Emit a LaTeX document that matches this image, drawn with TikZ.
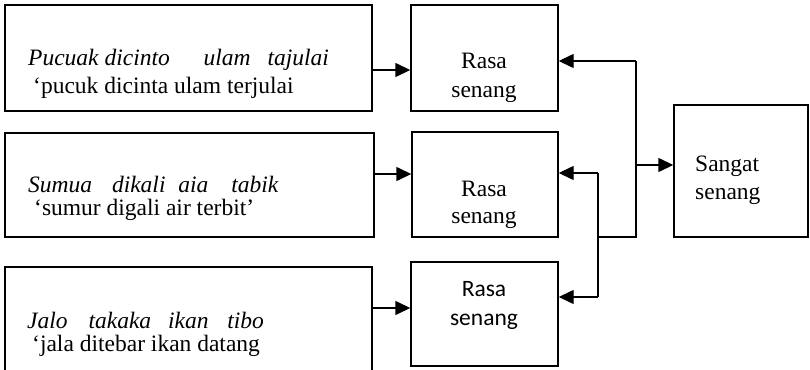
\documentclass[tikz,border=0pt]{standalone}
\usepackage{fontspec}
\setmainfont{Liberation Serif}
\newfontfamily\calib{Carlito}
\usetikzlibrary{arrows.meta}
\tikzset{
  box/.style={draw, line width=1.4pt, rectangle, inner sep=0pt},
  txt/.style={inner sep=0pt, font=\fontsize{23.5}{28}\selectfont},
  conn/.style={line width=1.4pt},
  arr/.style={line width=1.4pt, -{Triangle[length=15pt,width=14pt]}}
}
\begin{document}
\begin{tikzpicture}[x=1pt,y=-1pt]
\useasboundingbox (0,0) rectangle (810,369);
% left boxes
\node[box, minimum width=367pt, minimum height=106pt] (L1) at (188.5,58) {};
\node[box, minimum width=369pt, minimum height=104pt] (L2) at (189.5,185) {};
\node[box, minimum width=367pt, minimum height=105pt] (L3) at (188.5,319.5) {};
% middle boxes
\node[box, minimum width=147pt, minimum height=106pt] (M1) at (484.5,58) {};
\node[box, minimum width=146pt, minimum height=105pt] (M2) at (485,184.5) {};
\node[box, minimum width=147pt, minimum height=104pt] (M3) at (484.5,314) {};
% right box
\node[box, minimum width=134pt, minimum height=132pt] (S) at (741,171) {};
% texts left
\node[txt, anchor=base west] (t1a) at (28,66) {\textit{Pucuak dicinto\hspace{28pt} ulam\hspace{11pt} tajulai}};
\node[txt, anchor=base west] (t1b) at (33,93) {‘pucuk dicinta ulam terjulai};
\node[txt, anchor=base west] (t2a) at (28,192) {\textit{Sumua\hspace{14pt} dikali\hspace{7pt} aia\hspace{17pt} tabik}};
\node[txt, anchor=base west] (t2b) at (34,215) {‘sumur digali air terbit’};
\node[txt, anchor=base west] (t3a) at (27,328) {\textit{Jalo\hspace{15pt} takaka\hspace{11pt} ikan\hspace{13pt} tibo}};
\node[txt, anchor=base west] (t3b) at (32,351) {‘jala ditebar ikan datang};
% texts middle
\node[txt, anchor=base] (m1a) at (484,68) {Rasa};
\node[txt, anchor=base] (m1b) at (484,97) {senang};
\node[txt, anchor=base] (m2a) at (484,196) {Rasa};
\node[txt, anchor=base] (m2b) at (484,223) {senang};
\node[txt, anchor=base, font=\calib\fontsize{23.5}{28}\selectfont] (m3a) at (484,296) {Rasa};
\node[txt, anchor=base, font=\calib\fontsize{23.5}{28}\selectfont] (m3b) at (484,325) {senang};
% text right
\node[txt, anchor=base west] (sa) at (695,171) {Sangat};
\node[txt, anchor=base west] (sb) at (695,199) {senang};
% connectors left -> middle
\draw[arr] (L1.east |- 0,70) -- (M1.west |- 0,70);
\draw[arr] (L2.east |- 0,174) -- (M2.west |- 0,174);
\draw[arr] (L3.east |- 0,308) -- (M3.west |- 0,308);
% brackets
\coordinate (j1t) at (636,61);
\coordinate (j1m) at (636,165);
\coordinate (j1b) at (636,237);
\coordinate (j2t) at (598,173);
\coordinate (j2m) at (598,237);
\coordinate (j2b) at (598,297);
\draw[conn] (j1t) -- (j1b) -- (j2m);
\draw[conn] (j2t) -- (j2b);
\draw[arr] (j1t) -- (M1.east |- j1t);
\draw[arr] (j1m) -- (S.west |- j1m);
\draw[arr] (j2t) -- (M2.east |- j2t);
\draw[arr] (j2b) -- (M3.east |- j2b);
\end{tikzpicture}
\end{document}
